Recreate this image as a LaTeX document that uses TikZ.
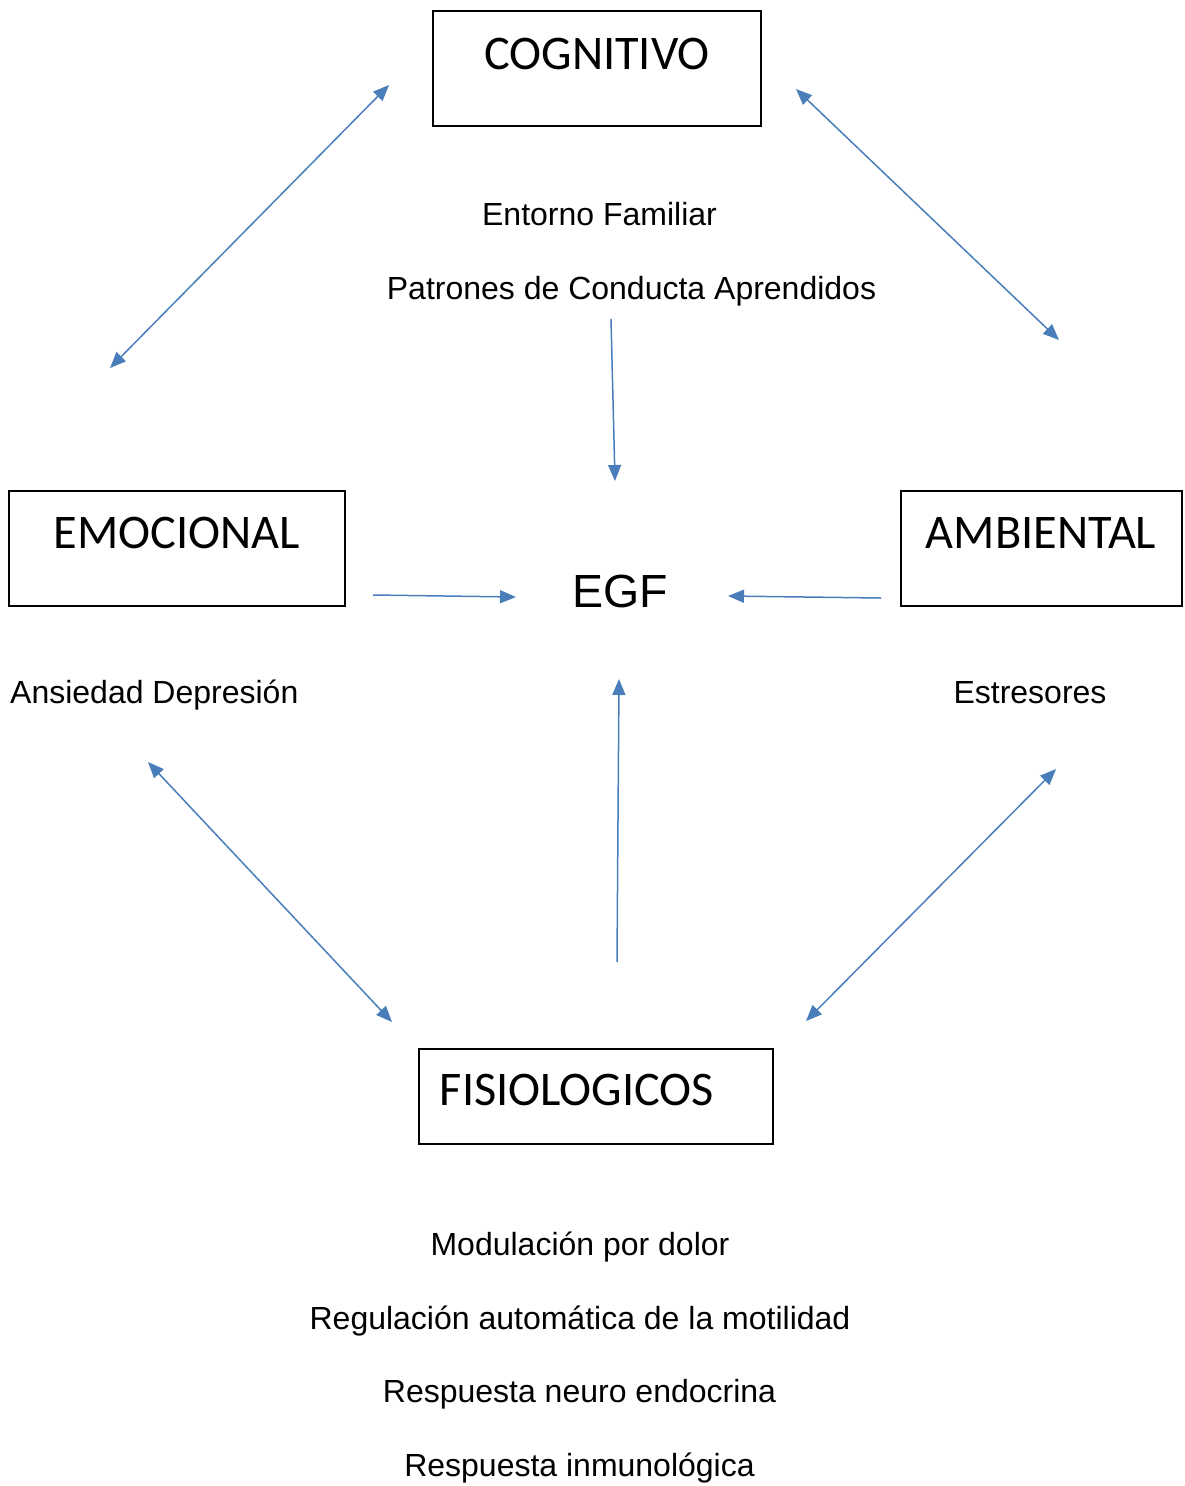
\documentclass[tikz,border=0pt]{standalone}
\usepackage{fontspec}
\setmainfont{Liberation Sans}
\newfontfamily\boxfont{Carlito}
\usetikzlibrary{arrows.meta}
\definecolor{arrowblue}{RGB}{74,126,187}
\begin{document}
\begin{tikzpicture}[x=1pt,y=-1pt,
  box/.style={draw=black,line width=1.8pt},
  boxlabel/.style={anchor=base,inner sep=0pt,font=\boxfont\fontsize{48.3}{58}\selectfont},
  lbl/.style={anchor=base,inner sep=0pt,font=\fontsize{32}{38}\selectfont},
  conn/.style={draw=arrowblue,line width=1.5pt,-{Triangle[length=16pt,width=13pt]}},
  dconn/.style={draw=arrowblue,line width=1.5pt,{Triangle[length=16pt,width=13pt]}-{Triangle[length=16pt,width=13pt]}}]
\useasboundingbox (0,0) rectangle (1184,1486);
% boxes
\draw[box] (433,11) rectangle (761,126);
\draw[box] (9,491) rectangle (345,606);
\draw[box] (901,491) rectangle (1182,606);
\draw[box] (419,1049) rectangle (773,1144);
\node[boxlabel] (cog) at (597,69) {COGNITIVO};
\node[boxlabel] (emo) at (177,548) {EMOCIONAL};
\node[boxlabel] (amb) at (1041,548) {AMBIENTAL};
\node[boxlabel] (fis) at (577,1105) {FISIOLOGICOS};
\node[anchor=base,inner sep=0pt,font=\fontsize{46.5}{55}\selectfont] (egf) at (620,607) {EGF};
% labels
\node[lbl] (ent) at (599.5,225) {Entorno Familiar};
\node[lbl] (pat) at (631.5,299) {Patrones de Conducta Aprendidos};
\node[lbl,anchor=base west] (ans) at (10,703) {Ansiedad Depresión};
\node[lbl] (est) at (1030,703) {Estresores};
\node[lbl] (mod) at (580,1255) {Modulación por dolor};
\node[lbl] (reg) at (580,1329) {Regulación automática de la motilidad};
\node[lbl] (neu) at (579.5,1402) {Respuesta neuro endocrina};
\node[lbl] (inm) at (579.5,1476) {Respuesta inmunológica};
% connector endpoints
\coordinate (a1) at (110,368); \coordinate (a2) at (389,85);
\coordinate (b1) at (796,89); \coordinate (b2) at (1059,340);
\coordinate (c1) at (611,319); \coordinate (c2) at (615,481);
\coordinate (d1) at (373,595); \coordinate (d2) at (516,597);
\coordinate (e1) at (881,598); \coordinate (e2) at (728,596);
\coordinate (f1) at (617,962); \coordinate (f2) at (619,679);
\coordinate (g1) at (148,762); \coordinate (g2) at (392,1022);
\coordinate (h1) at (1056,769); \coordinate (h2) at (806,1021);
\draw[dconn] (a1) -- (a2);
\draw[dconn] (b1) -- (b2);
\draw[conn] (c1) -- (c2);
\draw[conn] (d1) -- (d2);
\draw[conn] (e1) -- (e2);
\draw[conn] (f1) -- (f2);
\draw[dconn] (g1) -- (g2);
\draw[dconn] (h1) -- (h2);
\end{tikzpicture}
\end{document}
